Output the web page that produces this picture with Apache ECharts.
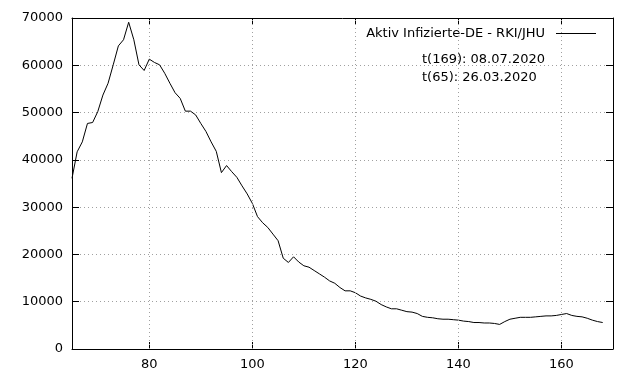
<!DOCTYPE html>
<html>
<head>
<meta charset="utf-8">
<script src="https://cdn.jsdelivr.net/npm/echarts@6/dist/echarts.min.js"></script>
<style>
  html, body { margin: 0; padding: 0; background: #fff; }
  #chart { width: 640px; height: 384px; }
</style>
</head>
<body>
<div id="chart"></div>
<script>
// Tage seit Jahresbeginn (65 = 26.03.2020)
var tage = [];
for (var t = 65; t <= 168; t++) tage.push(t);

// aktiv Infizierte
var aktiv = [
  36100, 41700, 43800, 47700, 47900, 50200, 53700, 56200, 60100, 64100,
  65400, 69100, 65400, 60100, 58900, 61300, 60600, 60100, 58300, 56200,
  54200, 53000, 50300, 50300, 49500, 47700, 46000, 43800, 41800, 37300,
  38800, 37500, 36300, 34500, 32800, 30800, 28000, 26700, 25700, 24300,
  22900, 19200, 18300, 19500, 18400, 17600, 17300, 16600, 15900, 15200,
  14400, 13900, 13000, 12300, 12300, 11900, 11200, 10800, 10500, 10100,
  9400, 8900, 8500, 8500, 8200, 7900, 7800, 7500, 6900, 6700,
  6600, 6400, 6300, 6300, 6200, 6100, 5900, 5800, 5600, 5600,
  5500, 5500, 5400, 5200, 5800, 6300, 6500, 6700, 6700, 6700,
  6800, 6900, 7000, 7000, 7100, 7300, 7500, 7100, 6900, 6800,
  6500, 6100, 5800, 5600
];

var xTicks = [80, 100, 120, 140, 160];
var legendName = 'Aktiv Infizierte-DE - RKI/JHU';
var infoLines = ['t(169): 08.07.2020', 't(65): 26.03.2020'];

var font = 'DejaVu Sans';
var dotted = { color: '#a0a0a0', type: [1, 3], width: 1 };
var tick = { show: true, inside: true, length: 7, lineStyle: { color: '#000' } };
var axLine = { show: true, onZero: false, lineStyle: { color: '#000', width: 1 } };

var chart = echarts.init(document.getElementById('chart'));
chart.setOption({
  backgroundColor: '#fff',
  animation: false,
  grid: { left: 72, right: 27, top: 18, bottom: 35 },
  legend: {
    data: [legendName],
    right: 39,
    top: 22,
    align: 'right',
    icon: 'rect',
    itemWidth: 40,
    itemHeight: 1,
    textStyle: { fontFamily: font, fontSize: 13, color: '#000', padding: [0, 6, 0, 0] }
  },
  xAxis: [{
    type: 'value',
    min: 65,
    max: 170,
    axisLine: axLine,
    axisTick: Object.assign({ customValues: xTicks }, tick),
    axisLabel: { customValues: xTicks, margin: 9, fontFamily: font, fontSize: 13, color: '#000' },
    splitLine: { show: false }
  }, {
    type: 'value',
    position: 'top',
    min: 65,
    max: 170,
    axisLine: axLine,
    axisTick: Object.assign({ customValues: xTicks }, tick),
    axisLabel: { show: false, customValues: xTicks },
    splitLine: { show: false }
  }],
  yAxis: [{
    type: 'value',
    min: 0,
    max: 70000,
    interval: 10000,
    axisLine: axLine,
    axisTick: tick,
    axisLabel: {
      margin: 9, fontFamily: font, fontSize: 13, color: '#000',
      formatter: function (v) { return String(v); }
    },
    splitLine: { show: true, lineStyle: dotted }
  }, {
    type: 'value',
    position: 'right',
    min: 0,
    max: 70000,
    interval: 10000,
    axisLine: axLine,
    axisTick: tick,
    axisLabel: { show: false },
    splitLine: { show: false }
  }],
  graphic: [{
    type: 'text',
    left: 422,
    top: 51,
    style: { text: infoLines.join('\n'), lineHeight: 18, font: '13px "DejaVu Sans"', fill: '#000' }
  }],
  series: [{
    name: legendName,
    type: 'line',
    data: tage.map(function (t, i) { return [t, aktiv[i]]; }),
    symbol: 'none',
    lineStyle: { color: '#000', width: 1 },
    itemStyle: { color: '#000' },
    markLine: {
      silent: true,
      symbol: 'none',
      label: { show: false },
      lineStyle: dotted,
      data: xTicks.map(function (v) { return { xAxis: v }; })
    }
  }]
});
</script>
</body>
</html>
